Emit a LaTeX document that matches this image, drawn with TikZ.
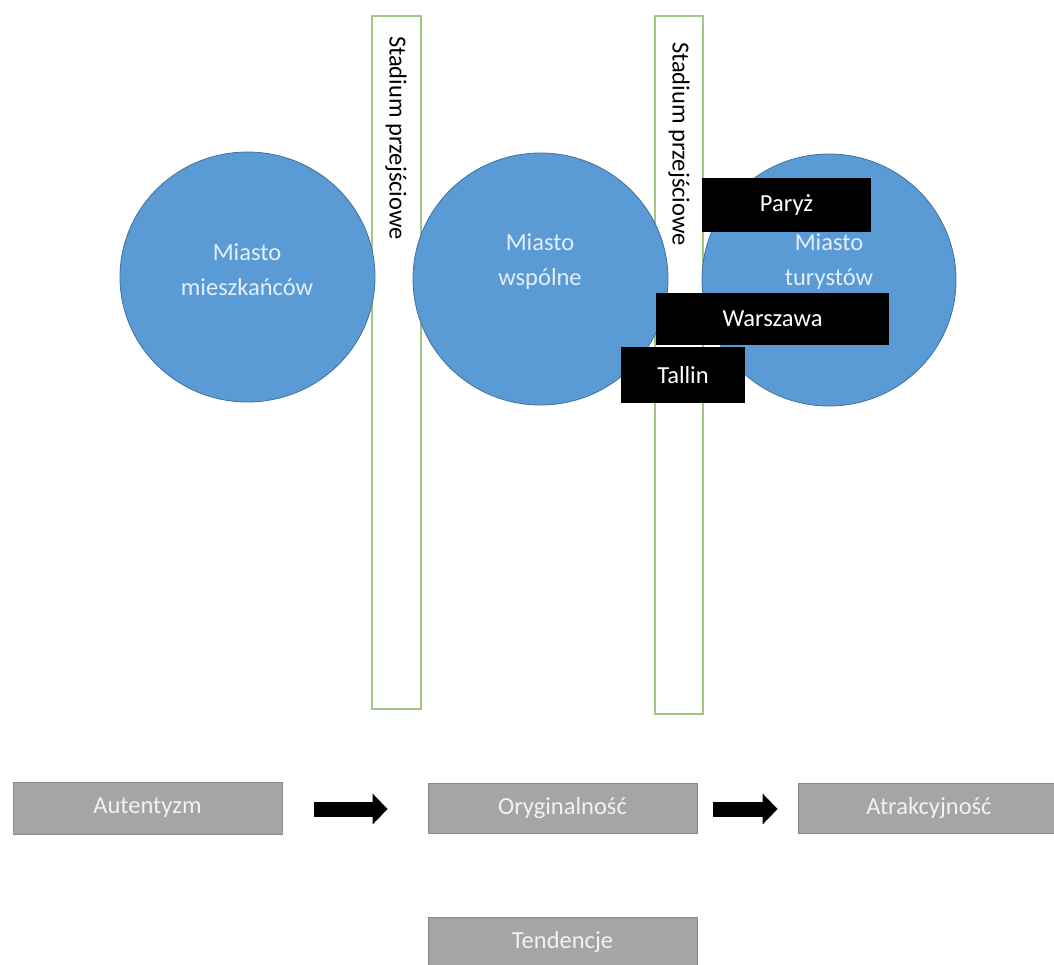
\documentclass[tikz,border=0pt]{standalone}
\usepackage{fontspec}
\setmainfont{Carlito}
\usetikzlibrary{arrows.meta}
\definecolor{cfill}{HTML}{5B9BD5}
\definecolor{cline}{HTML}{41719C}
\definecolor{ctext}{HTML}{E2EEF9}
\definecolor{gline}{HTML}{A3C585}
\definecolor{gfill}{HTML}{A5A5A5}
\definecolor{gborder}{HTML}{8A8A8A}
\definecolor{gtext}{HTML}{F2F2F2}
\tikzset{
  stadium/.style={draw=gline, line width=1.5pt, fill=white, inner sep=0pt},
  stadtext/.style={rotate=-90, inner sep=0pt, font=\fontsize{24.5}{28}\selectfont, text=black},
  citytext/.style={align=center, text=ctext, inner sep=0pt, font=\fontsize{24.5}{35}\selectfont},
  blackbox/.style={fill=black, inner sep=0pt, text=white, font=\fontsize{24.5}{28}\selectfont},
  graybox/.style={fill=gfill, draw=gborder, line width=0.8pt, inner sep=0pt, minimum width=270pt, minimum height=50pt, text=gtext, font=\fontsize{24.5}{28}\selectfont},
  bigarrow/.style={line width=15pt, -{Triangle[length=15pt,width=30pt]}}
}
\begin{document}
\begin{tikzpicture}[x=1pt, y=-1pt]
\useasboundingbox (0,0) rectangle (1054,964);
% transition bars
\node[stadium, minimum width=49pt, minimum height=693pt] (bar1) at (396.5,362.5) {};
\node[stadium, minimum width=48pt, minimum height=698pt] (bar2) at (679,365) {};
% cities
\path[draw=cline, line width=0.8pt, fill=cfill] (247.5,277) ellipse [x radius=127.5, y radius=125];
\path[draw=cline, line width=0.8pt, fill=cfill] (540.5,279) ellipse [x radius=127.5, y radius=126];
\path[draw=cline, line width=0.8pt, fill=cfill] (829,280) ellipse [x radius=127, y radius=126];
\node[citytext] (c1) at (247,270) {Miasto\\mieszkańców};
\node[citytext] (c2) at (540,262) {Miasto\\wspólne};
\node[citytext] (c3) at (829,262) {Miasto\\turystów};
% bar labels
\node[stadtext] (s1) at (396,138) {Stadium przejściowe};
\node[stadtext] (s2) at (679,144) {Stadium przejściowe};
% black boxes
\node[blackbox, minimum width=169pt, minimum height=54pt] (paryz) at (786.5,205) {Paryż};
\node[blackbox, minimum width=233pt, minimum height=52pt] (warszawa) at (772.5,319) {Warszawa};
\node[blackbox, minimum width=124pt, minimum height=56pt] (tallin) at (683,375) {Tallin};
% bottom row
\node[graybox, minimum width=269pt, minimum height=52pt] (aut) at (147.5,808) {Autentyzm};
\node[graybox, minimum width=269pt] (ory) at (562.5,808) {Oryginalność};
\node[graybox, minimum width=262pt] (atr) at (929,808) {Atrakcyjność};
\node[graybox, minimum width=269pt] (ten) at (562.5,942) {Tendencje};
\draw[bigarrow] ([xshift=32pt,yshift=-1pt]aut.east) -- ([xshift=-40pt,yshift=-1pt]ory.west);
\draw[bigarrow] ([xshift=16pt,yshift=-1pt]ory.east) -- ([xshift=-20pt,yshift=-1pt]atr.west);
\end{tikzpicture}
\end{document}
